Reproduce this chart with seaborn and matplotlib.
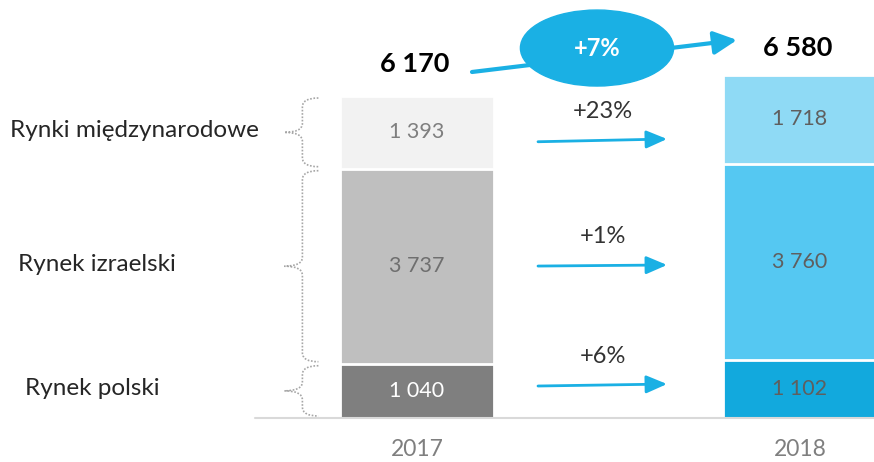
import numpy as np
import pandas as pd
import seaborn as sns
import matplotlib.pyplot as plt
from matplotlib.patches import Ellipse, PathPatch
from matplotlib.path import Path

# data
years = ["2017", "2018"]
segments = ["Rynek polski", "Rynek izraelski", "Rynki międzynarodowe"]
polski = [1040, 1102]
izraelski = [3737, 3760]
miedzynarodowe = [1393, 1718]
totals = [6170, 6580]
growth_labels = ["+6%", "+1%", "+23%"]
total_growth = "+7%"

# styles
colors_2017 = ["#7F7F7F", "#BFBFBF", "#F2F2F2"]
colors_2018 = ["#12A9DD", "#55C8F2", "#8FDAF5"]
label_colors_2017 = ["white", "#6F6F6F", "#7F7F7F"]
label_colors_2018 = ["#5F5F5F", "#5F5F5F", "#5F5F5F"]
blue = "#1AB0E4"


def fmt(v):
    return f"{v:,}".replace(",", " ")


sns.set_style("white")
plt.rcParams["font.family"] = ["Lato", "DejaVu Sans"]

fig = plt.figure(figsize=(8.74, 4.62), dpi=100)
ax = fig.add_axes([0, 0, 1, 1])

values = np.array([polski, izraelski, miedzynarodowe])
stack = np.cumsum(values, axis=0)

# stacked bars: draw cumulative heights from the top down
for i in reversed(range(len(segments))):
    df = pd.DataFrame({"rok": years, "wartosc": stack[i]})
    sns.barplot(
        data=df, x="rok", y="wartosc", hue="rok",
        palette=[colors_2017[i], colors_2018[i]], legend=False, saturation=1,
        width=0.4, edgecolor="white", linewidth=2, ax=ax,
    )

# pixel-like frame: category centres at 417 and 800 px
px = 383.0
k = 322.0 / totals[0]
ax.set_xlim(-417 / px, (874 - 417) / px)
ax.set_ylim(-(462 - 418) / k, 418 / k)
ax.axis("off")

ax.plot([(255 - 417) / px, 1.3], [0, 0], color="#D9D9D9", lw=1.5, zorder=5)

centers = stack - values / 2

# segment value labels
for j in range(len(years)):
    for i in range(len(segments)):
        c = label_colors_2017[i] if j == 0 else label_colors_2018[i]
        ax.text(j, centers[i, j], fmt(values[i, j]), ha="center", va="center",
                fontsize=15.5, color=c, zorder=6)

# year labels
for j, y in enumerate(years):
    ax.text(j, -32 / k, y, ha="center", va="center", fontsize=16.5, color="#7F7F7F")

# totals
total_offsets = [610, 510]
for j, t in enumerate(totals):
    ax.text(j - 0.005, t + total_offsets[j], fmt(t), ha="center", va="center",
            fontsize=19.5, fontweight="bold", color="black")

# overall growth arrow and bubble
ax.annotate("", xy=(0.8355, 7243), xytext=(0.1436, 6630),
            arrowprops=dict(arrowstyle="-|>,head_length=0.7,head_width=0.35",
                            color=blue, lw=3, mutation_scale=20, shrinkA=0, shrinkB=0))
ax.add_patch(Ellipse((0.47, 7089), 0.4, 76 / k, color=blue, zorder=7))
ax.text(0.47, 7089, total_growth, ha="center", va="center", fontsize=17,
        fontweight="bold", color="white", zorder=8)

# segment growth arrows
start_shift = [93, 3, -180]
end_shift = [100, -50, -375]
x0, x1 = (538 - 417) / px, (667 - 417) / px
for i, g in enumerate(growth_labels):
    y0 = centers[i, 0] + start_shift[i]
    y1 = centers[i, 1] + end_shift[i]
    ax.annotate("", xy=(x1, y1), xytext=(x0, y0),
                arrowprops=dict(arrowstyle="-|>,head_length=0.7,head_width=0.3",
                                color=blue, lw=2, mutation_scale=18,
                                shrinkA=0, shrinkB=0))
    ax.text((x0 + x1) / 2, (y0 + y1) / 2 + 29 / k, g, ha="center", va="center",
            fontsize=17, color="#333333")

# dotted braces and segment names
xm = -0.2 - 38 / px
xr = xm + 16 / px
xl = xm - 18 / px
r = 9 / k
label_x = [25, 18, 10]
for i, name in enumerate(segments):
    top = stack[i, 0] - 2 / k
    bot = stack[i, 0] - values[i, 0] + 2 / k
    mid = (top + bot) / 2
    verts = [(xr, top), (xm, top), (xm, top - r),
             (xm, mid + r), (xm, mid), (xl, mid),
             (xm, mid), (xm, mid - r),
             (xm, bot + r), (xm, bot), (xr, bot)]
    codes = [Path.MOVETO, Path.CURVE3, Path.CURVE3,
             Path.LINETO, Path.CURVE3, Path.CURVE3,
             Path.CURVE3, Path.CURVE3,
             Path.LINETO, Path.CURVE3, Path.CURVE3]
    ax.add_patch(PathPatch(Path(verts, codes), fill=False, edgecolor="#A6A6A6",
                           lw=1.2, linestyle=(0, (1, 1))))
    ax.text((label_x[i] - 417) / px, centers[i, 0] + 2 / k, name, ha="left", va="center",
            fontsize=17.5, color="#262626")

fig.savefig("out.png", dpi=100)
